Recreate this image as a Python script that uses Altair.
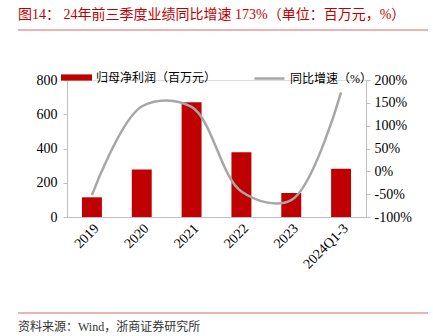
import altair as alt
import pandas as pd

years = ["2019", "2020", "2021", "2022", "2023", "2024Q1-3"]
profit = [115, 278, 670, 378, 140, 282]
growth = [-52, 142, 141, -44, -63, 173]
s_bar = "归母净利润（百万元）"
s_line = "同比增速（%）"
title_text = "图14：  24年前三季度业绩同比增速 173%（单位：百万元，%）"
source_text = "资料来源：Wind，浙商证券研究所"

df = pd.DataFrame({"year": years, "profit": profit, "growth": growth,
                   "s1": s_bar, "s2": s_line})

W, H = 299, 137
NUM = "'Liberation Serif', 'Times New Roman', serif"
CJK = "'Liberation Serif', 'Noto Sans CJK SC', sans-serif"
RED = "#C00000"

x = alt.X("year:N", sort=years,
          scale=alt.Scale(paddingInner=0.6, paddingOuter=0.3),
          axis=alt.Axis(title=None, labelAngle=-45, labelFont=NUM, labelFontSize=14,
                        labelColor="#000", domainColor="#bfbfbf", ticks=False,
                        labelPadding=4))

bars = alt.Chart(df).mark_bar(color=RED).encode(
    x=x,
    y=alt.Y("profit:Q", scale=alt.Scale(domain=[0, 800], nice=False),
            axis=alt.Axis(title=None, values=[0, 200, 400, 600, 800], grid=False,
                          labelFont=NUM, labelFontSize=14, labelColor="#000",
                          domainColor="#bfbfbf", tickColor="#bfbfbf", tickSize=4,
                          labelPadding=6)),
    color=alt.Color("s1:N", scale=alt.Scale(range=[RED]),
                    legend=alt.Legend(title=None, orient="none", legendX=-6, legendY=-18,
                                      symbolType="M-1,-0.2H1V0.2H-1Z", symbolSize=961,
                                      labelFont=CJK, labelFontSize=12, labelColor="#000",
                                      symbolStrokeWidth=0, symbolOpacity=1)),
)

line = alt.Chart(df).mark_line(strokeWidth=2.5, interpolate="catmull-rom").encode(
    x=x,
    y=alt.Y("growth:Q", scale=alt.Scale(domain=[-100, 200], nice=False),
            axis=alt.Axis(title=None, orient="right",
                          values=[-100, -50, 0, 50, 100, 150, 200], grid=False,
                          labelExpr="datum.value + '%'",
                          labelFont=NUM, labelFontSize=14, labelColor="#000",
                          domainColor="#bfbfbf", tickColor="#bfbfbf", tickSize=4,
                          labelPadding=4)),
    stroke=alt.Stroke("s2:N", scale=alt.Scale(range=["#A6A6A6"]),
                      legend=alt.Legend(title=None, orient="none", legendX=186, legendY=-18,
                                        symbolType="stroke", symbolSize=900,
                                        symbolStrokeWidth=2.5,
                                        labelFont=CJK, labelFontSize=12, labelColor="#000")),
)

tdf = pd.DataFrame({"a": [0]})
title = alt.Chart(tdf).mark_text(text=title_text, align="left", baseline="middle",
                                 font=CJK, fontSize=14, color=RED).encode(
    x=alt.value(-49), y=alt.value(-65))
source = alt.Chart(tdf).mark_text(text=source_text, align="left", baseline="middle",
                                  font=CJK, fontSize=12, color="#333").encode(
    x=alt.value(-49), y=alt.value(247))
rule1 = alt.Chart(tdf).mark_rule(color="#E06666", strokeWidth=1.2).encode(
    x=alt.value(-49), x2=alt.value(361), y=alt.value(-50))
rule2 = alt.Chart(tdf).mark_rule(color="#E06666", strokeWidth=1.2).encode(
    x=alt.value(-49), x2=alt.value(361), y=alt.value(233))

chart = alt.layer(bars, line, title, source, rule1, rule2).resolve_scale(
    y="independent", color="independent", stroke="independent"
).properties(
    width=W, height=H,
    autosize=alt.AutoSizeParams(type="none"),
    padding={"left": 67, "top": 80, "right": 67, "bottom": 119},
).configure_view(stroke=None).configure(background="white")

chart.save("out.html", embed_options={"renderer": "svg", "actions": False})
